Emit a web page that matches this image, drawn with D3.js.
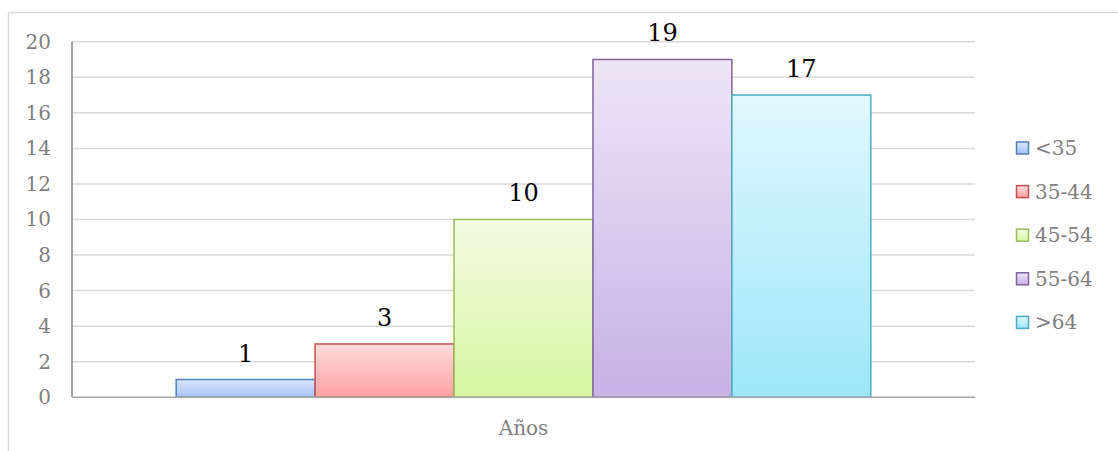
<!DOCTYPE html>
<html>
<head>
<meta charset="utf-8">
<script src="https://cdn.jsdelivr.net/npm/d3@7"></script>
<style>
  body { margin: 0; background: #fff; }
  svg { display: block; font-family: "DejaVu Serif", serif; }
</style>
</head>
<body>
<div id="container"></div>
<script>
// Data
const categories = ["Años"];
const seriesNames = ["<35", "35-44", "45-54", "55-64", ">64"];
const seriesValues = [1, 3, 10, 19, 17];
const yTicks = [0, 2, 4, 6, 8, 10, 12, 14, 16, 18, 20];

const strokeColors = ["#4f81bd", "#c0504d", "#9bbb59", "#8064a2", "#4bacc6"];
const topColors = ["#dbe6fb", "#ffdcdc", "#f3fbe2", "#ede6f6", "#e1f8fd"];
const bottomColors = ["#a6c3f7", "#ffa1a1", "#d7f7a2", "#c7b1e5", "#9de6f9"];

const W = 1118, H = 451;
const margin = { top: 41.7, left: 72, right: 143, bottom: 53.7 };
const width = W - margin.left - margin.right,
      height = H - margin.top - margin.bottom;

const svg = d3.select("#container")
  .append("svg")
  .attr("width", W)
  .attr("height", H);

// gradients
const defs = svg.append("defs");
seriesNames.forEach((s, i) => {
  const g = defs.append("linearGradient")
    .attr("id", "grad" + i)
    .attr("x1", 0).attr("y1", 0).attr("x2", 0).attr("y2", 1);
  g.append("stop").attr("offset", "0%").attr("stop-color", topColors[i]);
  g.append("stop").attr("offset", "100%").attr("stop-color", bottomColors[i]);
});

// outer chart border
svg.append("rect")
  .attr("x", 8.5).attr("y", 12.5)
  .attr("width", W + 10).attr("height", H + 10)
  .attr("fill", "none")
  .attr("stroke", "#d9d9d9")
  .attr("stroke-width", 1.5);

const chart = svg.append("g")
  .attr("transform", `translate(${margin.left},${margin.top})`);

// scales
const x0 = d3.scaleBand()
  .domain(categories)
  .range([0, width])
  .paddingInner(0)
  .paddingOuter(0);

// gap width 150% -> bars take 5 / (5 + 1.5) of the category
const groupInner = x0.bandwidth() * 5 / 6.5;
const x1 = d3.scaleBand()
  .domain(seriesNames)
  .range([(x0.bandwidth() - groupInner) / 2, (x0.bandwidth() + groupInner) / 2]);

const y = d3.scaleLinear()
  .domain([0, 20])
  .range([height, 0]);

// gridlines
chart.append("g")
  .selectAll("line")
  .data(yTicks.filter(d => d > 0))
  .enter()
  .append("line")
  .attr("x1", 0)
  .attr("x2", width)
  .attr("y1", d => y(d))
  .attr("y2", d => y(d))
  .attr("stroke", "#d9d9d9")
  .attr("stroke-width", 1.5);

// y axis labels
chart.append("g")
  .call(d3.axisLeft(y).tickValues(yTicks).tickSize(0).tickPadding(21))
  .call(g => g.select(".domain").remove())
  .call(g => g.selectAll("text")
    .attr("fill", "#7f7f7f")
    .style("font-size", "20px")
    .style("font-family", "DejaVu Serif, serif"));

// bars
const groups = chart.selectAll(".group")
  .data(categories)
  .enter()
  .append("g")
  .attr("transform", d => `translate(${x0(d)},0)`);

groups.selectAll("rect")
  .data(seriesNames.map((s, i) => ({ name: s, value: seriesValues[i], i })))
  .enter()
  .append("rect")
  .attr("x", d => x1(d.name))
  .attr("y", d => y(d.value))
  .attr("width", x1.bandwidth())
  .attr("height", d => height - y(d.value))
  .attr("fill", d => `url(#grad${d.i})`)
  .attr("stroke", d => strokeColors[d.i])
  .attr("stroke-width", 1.5);

// data labels
groups.selectAll(".lbl")
  .data(seriesNames.map((s, i) => ({ name: s, value: seriesValues[i] })))
  .enter()
  .append("text")
  .attr("x", d => x1(d.name) + x1.bandwidth() / 2)
  .attr("y", d => y(d.value) - 18)
  .attr("text-anchor", "middle")
  .attr("fill", "#000")
  .style("font-size", "24px")
  .text(d => d.value);

// axis lines
chart.append("line")
  .attr("x1", 0).attr("x2", 0)
  .attr("y1", 0).attr("y2", height)
  .attr("stroke", "#868686")
  .attr("stroke-width", 1.5);

chart.append("line")
  .attr("x1", 0).attr("x2", width)
  .attr("y1", height).attr("y2", height)
  .attr("stroke", "#a6a6a6")
  .attr("stroke-width", 1.5);

// category label
chart.append("g")
  .attr("transform", `translate(0,${height})`)
  .call(d3.axisBottom(x0).tickSize(0).tickPadding(24))
  .call(g => g.select(".domain").remove())
  .call(g => g.selectAll("text")
    .attr("fill", "#7f7f7f")
    .style("font-size", "20px")
    .style("font-family", "DejaVu Serif, serif"));

// legend
const legend = svg.append("g")
  .attr("transform", "translate(1016,148)");

const items = legend.selectAll("g")
  .data(seriesNames)
  .enter()
  .append("g")
  .attr("transform", (d, i) => `translate(0,${i * 43.6})`);

items.append("rect")
  .attr("x", 0.5).attr("y", -6)
  .attr("width", 12).attr("height", 12)
  .attr("fill", (d, i) => `url(#grad${i})`)
  .attr("stroke", (d, i) => strokeColors[i])
  .attr("stroke-width", 1.5);

items.append("text")
  .attr("x", 19)
  .attr("y", 7)
  .attr("fill", "#7f7f7f")
  .style("font-size", "20px")
  .text(d => d);
</script>
</body>
</html>
